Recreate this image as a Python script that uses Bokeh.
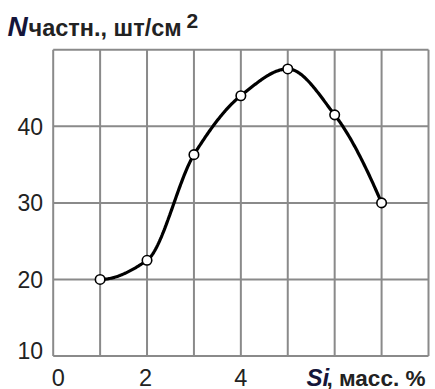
import numpy as np
from bokeh.plotting import figure
from bokeh.models import Range1d
from bokeh.core.properties import value
from bokeh.embed import file_html
from bokeh.resources import INLINE

# ---- data ----
si_mass = [1, 2, 3, 4, 5, 6, 7]
n_part = [20.0, 22.5, 36.3, 44.0, 47.5, 41.5, 30.0]
x_tick_vals = [0, 2, 4]
x_tick_text = ["0", "2", "4"]
y_tick_vals = [10, 20, 30, 40]
y_tick_text = ["10", "20", "30", "40"]
x_grid_vals = [0, 1, 2, 3, 4, 5, 6, 7, 8]
y_grid_vals = [10, 20, 30, 40, 50]
x_lo, x_hi = 0, 8
y_lo, y_hi = 10, 50


def pchip(xs, ys, n=300):
    xs = np.asarray(xs, float)
    ys = np.asarray(ys, float)
    k = len(xs)
    h = np.diff(xs)
    d = np.diff(ys) / h
    m = np.zeros(k)
    for i in range(1, k - 1):
        if d[i - 1] * d[i] > 0:
            w1 = 2 * h[i] + h[i - 1]
            w2 = h[i] + 2 * h[i - 1]
            m[i] = (w1 + w2) / (w1 / d[i - 1] + w2 / d[i])

    def end(h0, h1, d0, d1):
        s = ((2 * h0 + h1) * d0 - h0 * d1) / (h0 + h1)
        if np.sign(s) != np.sign(d0):
            return 0.0
        if np.sign(d0) != np.sign(d1) and abs(s) > 3 * abs(d0):
            return 3 * d0
        return s

    m[0] = end(h[0], h[1], d[0], d[1])
    m[-1] = end(h[-1], h[-2], d[-1], d[-2])
    xx = np.linspace(xs[0], xs[-1], n)
    idx = np.clip(np.searchsorted(xs, xx) - 1, 0, k - 2)
    hh = h[idx]
    t = (xx - xs[idx]) / hh
    h00 = 2 * t ** 3 - 3 * t ** 2 + 1
    h10 = t ** 3 - 2 * t ** 2 + t
    h01 = -2 * t ** 3 + 3 * t ** 2
    h11 = t ** 3 - t ** 2
    yy = h00 * ys[idx] + h10 * hh * m[idx] + h01 * ys[idx + 1] + h11 * hh * m[idx + 1]
    return xx, yy


# ---- layout (pixels) ----
W, H = 435, 389
FL, FR, FT, FB = 52.7, 428.0, 49.3, 355.5   # plot rectangle edges in the canvas
sx = (x_hi - x_lo) / (FR - FL)
sy = (y_hi - y_lo) / (FB - FT)

p = figure(width=W, height=H, output_backend="svg", toolbar_location=None,
           x_axis_location=None, y_axis_location=None,
           x_range=Range1d(x_lo - FL * sx, x_hi + (W - FR) * sx),
           y_range=Range1d(y_lo - (H - FB) * sy, y_hi + FT * sy),
           min_border=0)
p.background_fill_color = "white"
p.border_fill_color = "white"
p.outline_line_color = None
p.grid.visible = False


def dx(px):
    return x_lo + (px - FL) * sx


def dy(py):
    return y_hi - (py - FT) * sy


grid_col = "#8a8a8a"
p.segment(x0=x_grid_vals, y0=[y_lo] * len(x_grid_vals), x1=x_grid_vals, y1=[y_hi] * len(x_grid_vals),
          line_color=grid_col, line_width=2)
p.segment(x0=[x_lo] * len(y_grid_vals), y0=y_grid_vals, x1=[x_hi] * len(y_grid_vals), y1=y_grid_vals,
          line_color=grid_col, line_width=2)

xx, yy = pchip(si_mass, n_part)
p.line(xx, yy, line_color="black", line_width=3.2)
p.scatter(si_mass, n_part, size=9.5, fill_color="white", line_color="black", line_width=1.6)

font = value("Liberation Sans")
txt = "#222222"
navy = "#15153a"

# tick labels
p.text(x=x_tick_vals, y=[dy(376.5)] * len(x_tick_vals), text=x_tick_text, text_font=font,
       text_font_size="23.5px", text_color=txt, text_align="center", text_baseline="middle",
       x_offset=[5, -1.5, 0])
p.text(x=[dx(42.5)] * len(y_tick_vals), y=y_tick_vals, text=y_tick_text, text_font=font,
       text_font_size="23px", text_color=txt, text_align="right", text_baseline="middle",
       y_offset=[-6, 0, 0, 0])


def add_text(text, px, py, size, style="bold", color=txt):
    p.text(x=[dx(px)], y=[dy(py)], text=[text], text_font=font, text_font_size=size,
           text_font_style=style, text_color=color, text_align="left", text_baseline="middle")


# y title
add_text("N", 7, 25.5, "28px", "bold italic", navy)
add_text("частн., шт/см", 28, 27.5, "23.5px")
add_text("2", 186, 20.5, "21px")

# x title
add_text("Si", 306, 376.5, "24px", "bold italic", navy)
add_text(", масс. %", 326, 377.5, "22.5px")

open("out.html", "w").write(file_html(p, INLINE))
